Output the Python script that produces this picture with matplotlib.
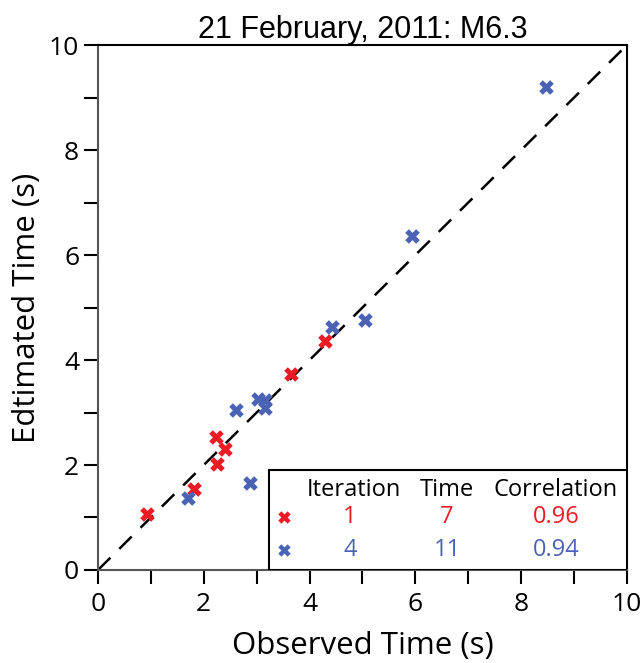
import matplotlib
matplotlib.use("Agg")
import matplotlib.pyplot as plt
from matplotlib.patches import Rectangle

# observed vs estimated times (s)
red_obs = [0.93, 1.81, 2.23, 2.25, 2.40, 3.65, 4.29]
red_est = [1.07, 1.54, 2.53, 2.02, 2.30, 3.73, 4.36]
blue_obs = [1.70, 2.61, 2.87, 3.02, 3.16, 3.15, 4.42, 5.05, 5.94, 8.47]
blue_est = [1.37, 3.05, 1.66, 3.26, 3.24, 3.09, 4.63, 4.76, 6.36, 9.20]

iterations = ["1", "4"]
times = ["7", "11"]
correlations = ["0.96", "0.94"]
colors = ["#ED1C24", "#4A63B4"]

plt.rcParams['font.family'] = ['Open Sans', 'DejaVu Sans']

fig = plt.figure(figsize=(6.43, 6.63), dpi=100)
ax = fig.add_axes([0.1524, 0.1403, 0.8226, 0.7917])

ax.plot([0, 10], [0, 10], color='black', linestyle=(0, (7, 5)), linewidth=1.8, zorder=1)
ax.scatter(red_obs, red_est, marker='X', s=110, color=colors[0], linewidths=0, zorder=3)
ax.scatter(blue_obs, blue_est, marker='X', s=110, color=colors[1], linewidths=0, zorder=3)

ax.set_xlim(0, 10)
ax.set_ylim(0, 10)
ax.set_xticks(range(0, 11, 2))
ax.set_yticks(range(0, 11, 2))
ax.set_xticks(range(1, 10, 2), minor=True)
ax.set_yticks(range(1, 10, 2), minor=True)
ax.tick_params(which='both', direction='out', length=10, width=1.5, labelsize=19, colors='black')
ax.tick_params(axis='x', pad=6)

for side in ['left', 'bottom']:
    ax.spines[side].set_color('#555555')
    ax.spines[side].set_linewidth(1.5)
for side in ['top', 'right']:
    ax.spines[side].set_color('black')
    ax.spines[side].set_linewidth(1.5)

ax.set_xlabel('Observed Time (s)', fontsize=22.5, labelpad=10)
ax.set_ylabel('Edtimated Time (s)', fontsize=22.5, labelpad=5)
ax.set_title('21 February, 2011: M6.3', fontsize=22, family='Liberation Sans', pad=5)

# legend table
ax.add_patch(Rectangle((0.323, 0.0), 0.677, 0.19, transform=ax.transAxes,
                       facecolor='white', edgecolor='black', linewidth=1.5, zorder=4))
hdr_y = 0.152
ax.text(0.484, hdr_y, 'Iteration', transform=ax.transAxes, ha='center', va='center', fontsize=17, zorder=5)
ax.text(0.660, hdr_y, 'Time', transform=ax.transAxes, ha='center', va='center', fontsize=17, zorder=5)
ax.text(0.866, hdr_y, 'Correlation', transform=ax.transAxes, ha='center', va='center', fontsize=17, zorder=5)
row_y = [0.101, 0.039]
for i in range(2):
    ax.scatter([0.352], [row_y[i]], transform=ax.transAxes, marker='X', s=80,
               color=colors[i], linewidths=0, zorder=5, clip_on=False)
    ax.text(0.476, row_y[i], iterations[i], transform=ax.transAxes, ha='center', va='center',
            fontsize=17, color=colors[i], zorder=5)
    ax.text(0.660, row_y[i], times[i], transform=ax.transAxes, ha='center', va='center',
            fontsize=17, color=colors[i], zorder=5)
    ax.text(0.866, row_y[i], correlations[i], transform=ax.transAxes, ha='center', va='center',
            fontsize=17, color=colors[i], zorder=5)

plt.savefig('out.png', dpi=100)
